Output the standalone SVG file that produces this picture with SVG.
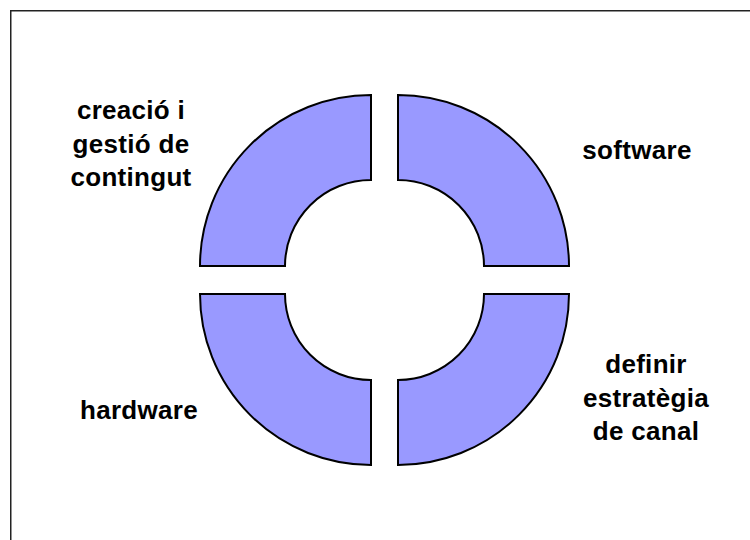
<svg xmlns="http://www.w3.org/2000/svg" width="750" height="540" viewBox="0 0 750 540">
<style>
.seg{fill:#9999FF;stroke:#000;stroke-width:2;stroke-linejoin:miter}
.lbl{font-family:"Liberation Sans",Arial,sans-serif;font-weight:bold;font-size:26px;letter-spacing:0.3px;fill:#000;text-anchor:middle}
.frame{fill:none;stroke:#222;stroke-width:1.5}
</style>
<rect width="750" height="540" fill="#fff"/>
<path class="frame" d="M10.75 540 V10.75 H750"/>
<g id="seg-content">
<path class="seg" d="M200 266 A171 171 0 0 1 371 95 L371 180 A86 86 0 0 0 285 266 Z"/>
<text class="lbl" x="131" y="119">creació i</text>
<text class="lbl" x="131" y="152.5">gestió de</text>
<text class="lbl" x="131" y="186">contingut</text>
</g>
<g id="seg-software">
<path class="seg" d="M398 95 A171 171 0 0 1 569 266 L484 266 A86 86 0 0 0 398 180 Z"/>
<text class="lbl" x="637" y="159">software</text>
</g>
<g id="seg-canal">
<path class="seg" d="M569 294 A171 171 0 0 1 398 465 L398 380 A86 86 0 0 0 484 294 Z"/>
<text class="lbl" x="646" y="373">definir</text>
<text class="lbl" x="646" y="406.5">estratègia</text>
<text class="lbl" x="646" y="440">de canal</text>
</g>
<g id="seg-hardware">
<path class="seg" d="M371 465 A171 171 0 0 1 200 294 L285 294 A86 86 0 0 0 371 380 Z"/>
<text class="lbl" x="139" y="419">hardware</text>
</g>
<g id="connectors"/>
</svg>
